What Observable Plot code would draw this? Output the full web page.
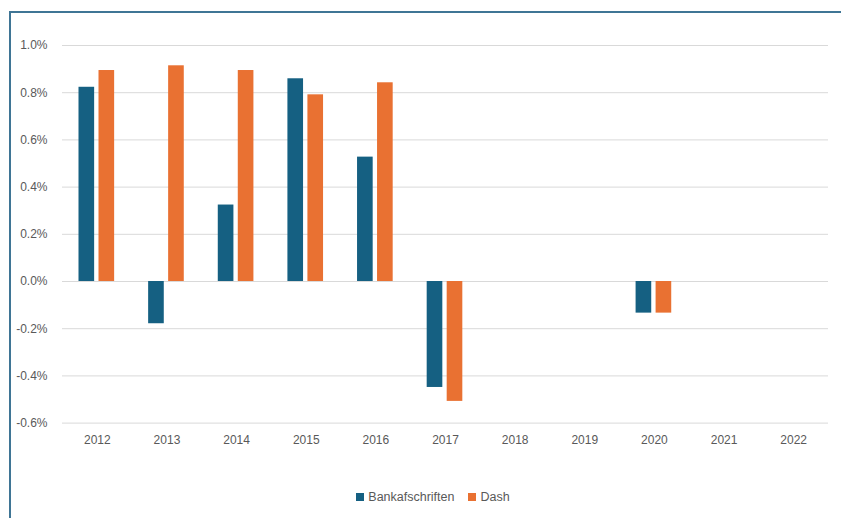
<!DOCTYPE html>
<html>
<head>
<meta charset="utf-8">
<script src="https://cdn.jsdelivr.net/npm/d3@7"></script>
<script src="https://cdn.jsdelivr.net/npm/@observablehq/plot@0.6"></script>
<style>
  html, body { margin: 0; padding: 0; background: #fff; }
  body { width: 841px; height: 518px; position: relative; overflow: hidden; font-family: "Liberation Sans", Arial, sans-serif; }
  #frame { position: absolute; left: 9px; top: 11px; right: -10px; bottom: -10px; border-left: 2px solid #3f7595; border-top: 2px solid #3f7595; }
  #chart { position: absolute; left: 0; top: 0; }
  #legend { position: absolute; left: 0; width: 841px; top: 490px; display: flex; justify-content: center; gap: 14px; font-size: 12.5px; color: #595959; padding-left: 25px; box-sizing: border-box; }
  #legend .item { display: flex; align-items: center; gap: 4px; }
  #legend .sw { width: 8px; height: 8px; display: inline-block; }
</style>
</head>
<body>
<div id="frame"></div>
<div id="chart"></div>
<div id="legend"></div>
<script>
const years = ["2012","2013","2014","2015","2016","2017","2018","2019","2020","2021","2022"];
const seriesNames = ["Bankafschriften", "Dash"];
const seriesColors = ["#156082", "#E97132"];
const bankafschriften = [0.823, -0.179, 0.324, 0.859, 0.527, -0.449, null, null, -0.134, null, null];
const dash = [0.894, 0.914, 0.894, 0.791, 0.842, -0.508, null, null, -0.134, null, null];
const yTicks = [-0.6, -0.4, -0.2, 0.0, 0.2, 0.4, 0.6, 0.8, 1.0];

const bankData = years.map((y, i) => ({year: y, value: bankafschriften[i], series: seriesNames[0]})).filter(d => d.value != null);
const dashData = years.map((y, i) => ({year: y, value: dash[i], series: seriesNames[1]})).filter(d => d.value != null);

const fmt = d => d.toFixed(1) + "%";

const plot = Plot.plot({
  width: 841,
  height: 460,
  marginLeft: 62,
  marginRight: 13,
  marginTop: 45,
  marginBottom: 37.4,
  style: {background: "transparent", fontFamily: "'Liberation Sans', Arial, sans-serif", fontSize: "12px", color: "#595959", overflow: "visible"},
  x: {type: "band", domain: years, padding: 0, round: false, label: null},
  y: {domain: [-0.6, 1.0], label: null},
  marks: [
    Plot.ruleY(yTicks, {stroke: "#d9d9d9", strokeWidth: 1}),
    Plot.barY(bankData, {x: "year", y: "value", fill: seriesColors[0], insetLeft: 16.5, insetRight: 37.5}),
    Plot.barY(dashData, {x: "year", y: "value", fill: seriesColors[1], insetLeft: 36.5, insetRight: 17.5}),
    Plot.axisX({tickSize: 0, tickPadding: 12, label: null, fill: "#595959"}),
    Plot.axisY({ticks: yTicks, tickFormat: fmt, tickSize: 0, tickPadding: 15, label: null, fill: "#595959"})
  ]
});
document.getElementById("chart").appendChild(plot);

const legend = document.getElementById("legend");
seriesNames.forEach((name, i) => {
  const item = document.createElement("span");
  item.className = "item";
  const sw = document.createElement("span");
  sw.className = "sw";
  sw.style.background = seriesColors[i];
  item.appendChild(sw);
  item.appendChild(document.createTextNode(name));
  legend.appendChild(item);
});
</script>
</body>
</html>
